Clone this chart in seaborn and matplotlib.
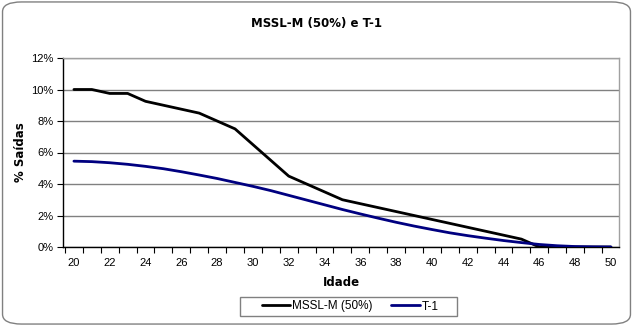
import numpy as np
import pandas as pd
import matplotlib
matplotlib.use('Agg')
import matplotlib.pyplot as plt
import seaborn as sns
from matplotlib.patches import FancyBboxPatch, Rectangle
from matplotlib.ticker import FixedLocator, FuncFormatter

# ---- data ----
ages = list(range(20, 51))
mssl_m = [10.0, 10.0, 9.75, 9.75, 9.25, 9.0, 8.75, 8.5, 8.0, 7.5,
          6.5, 5.5, 4.5, 4.0, 3.5, 3.0, 2.75, 2.5, 2.25, 2.0,
          1.75, 1.5, 1.25, 1.0, 0.75, 0.5, 0.0, 0.0, 0.0, 0.0, 0.0]
t_1 = [5.45, 5.42, 5.35, 5.25, 5.12, 4.97, 4.78, 4.57, 4.35, 4.10,
       3.85, 3.58, 3.28, 2.98, 2.68, 2.38, 2.10, 1.83, 1.57, 1.33,
       1.11, 0.90, 0.72, 0.56, 0.41, 0.28, 0.16, 0.08, 0.03, 0.01, 0.0]
series_names = ['MSSL-M (50%)', 'T-1']
series_colors = ['#000000', '#000080']
x_tick_labels = list(range(20, 51, 2))
y_ticks = [0, 2, 4, 6, 8, 10, 12]

df = pd.DataFrame({
    'Idade': ages * 2,
    'value': mssl_m + t_1,
    'serie': [series_names[0]] * len(ages) + [series_names[1]] * len(ages),
})

sns.set_style('white')
plt.rcParams['font.family'] = ['Liberation Sans', 'DejaVu Sans']
plt.rcParams['text.color'] = 'black'
plt.rcParams['axes.labelcolor'] = 'black'
plt.rcParams['xtick.color'] = 'black'
plt.rcParams['ytick.color'] = 'black'

W, H = 633, 326
fig = plt.figure(figsize=(W / 100, H / 100), dpi=100)
fig.patch.set_facecolor('white')

# rounded chart border
border = FancyBboxPatch((0.004, 0.006), 0.992, 0.988,
                        boxstyle='round,pad=0,rounding_size=0.03',
                        transform=fig.transFigure, facecolor='none',
                        edgecolor='#808080', linewidth=1.0, zorder=-1)
fig.patches.append(border)

ax = fig.add_axes([63 / W, 1 - 247 / H, (619 - 63) / W, (247 - 58) / H])
ax.set_facecolor('white')

sns.lineplot(data=df, x='Idade', y='value', hue='serie',
             palette=dict(zip(series_names, series_colors)),
             linewidth=2.0, ax=ax, legend=True, zorder=3)

ax.set_xlim(19.39, 50.45)
ax.set_ylim(0, 12)

ax.yaxis.set_major_locator(FixedLocator(y_ticks))
ax.yaxis.set_major_formatter(FuncFormatter(lambda v, p: f'{int(v)}%'))
ax.xaxis.set_major_locator(FixedLocator(x_tick_labels))
ax.xaxis.set_minor_locator(FixedLocator([a + 0.5 for a in range(19, 50)]))
ax.tick_params(axis='x', which='major', length=0, labelsize=8, pad=8, colors='#000000')
ax.tick_params(axis='x', which='minor', length=4, width=0.8, direction='out', color='#000000', bottom=True)
ax.tick_params(axis='y', which='major', length=4, width=0.8, direction='out', labelsize=8,
               color='#000000', left=True, pad=3)

ax.grid(axis='y', color='#808080', linewidth=1.0, zorder=1)
ax.grid(axis='x', visible=False)
ax.set_axisbelow(True)

for s in ['top', 'right']:
    ax.spines[s].set_color('#a0a0a0')
    ax.spines[s].set_linewidth(1.0)
for s in ['left', 'bottom']:
    ax.spines[s].set_color('#000000')
    ax.spines[s].set_linewidth(1.0)

ax.set_xlabel('Idade', fontsize=8.5, fontweight='bold', family='DejaVu Sans', labelpad=6)
ax.set_ylabel('% Saídas', fontsize=8.5, fontweight='bold', family='DejaVu Sans', labelpad=3)

fig.text(0.5, 1 - 24 / H, 'MSSL-M (50%) e T-1', ha='center', va='center',
         fontsize=8.5, fontweight='bold', family='DejaVu Sans')

handles, labels = ax.get_legend_handles_labels()
ax.legend_.remove()
# legend frame (wider horizontal padding than matplotlib allows)
fig.patches.append(Rectangle((240 / W, 1 - 316 / H), (457 - 240) / W, 19 / H,
                             transform=fig.transFigure, facecolor='white',
                             edgecolor='#808080', linewidth=1.0, zorder=1))
leg = fig.legend(handles, labels, loc='center', bbox_to_anchor=(350 / W, 1 - 306.5 / H),
                 ncol=2, frameon=False, fontsize=8.5,
                 handlelength=2.4, columnspacing=1.6, borderpad=0.2, handletextpad=0.15)
leg.set_zorder(2)

fig.savefig('out.png', dpi=100, facecolor='white')
